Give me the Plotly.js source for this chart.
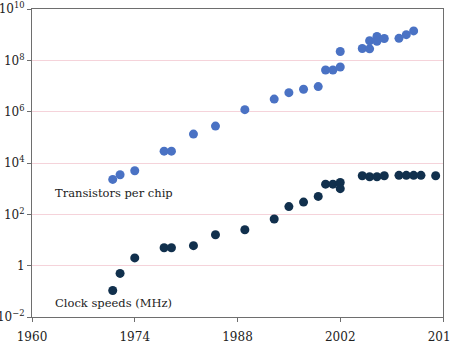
<!DOCTYPE html>
<html>
<head>
<meta charset="utf-8">
<script src="https://cdn.plot.ly/plotly-3.0.1.min.js"></script>
<style>
  html, body { margin: 0; padding: 0; background: #ffffff; }
  #chart { width: 450px; height: 343px; }
</style>
</head>
<body>
<div id="chart"></div>
<script>
// Transistor counts per microprocessor, by year of introduction
const transistorYears = [1971, 1972, 1974, 1978, 1979, 1982, 1985, 1989, 1993, 1995, 1997, 1999,
  2000, 2001, 2002, 2002, 2005, 2006, 2006, 2007, 2007, 2008, 2010, 2011, 2012];
const transistorCounts = [2300, 3500, 5000, 29000, 29000, 134000, 275000, 1200000, 3100000,
  5500000, 7500000, 9500000, 42000000, 42000000, 55000000, 220000000, 290000000, 280000000,
  580000000, 850000000, 550000000, 710000000, 720000000, 1000000000, 1400000000];

// Clock speeds in MHz, by year of introduction
const clockYears = [1971, 1972, 1974, 1978, 1979, 1982, 1985, 1989, 1993, 1995, 1997, 1999,
  2000, 2001, 2002, 2002, 2005, 2006, 2007, 2008, 2010, 2011, 2012, 2013, 2015];
const clockMHz = [0.108, 0.5, 2, 5, 5, 6, 16, 25, 66, 200, 300, 500,
  1500, 1500, 1740, 1000, 3200, 2900, 2900, 3200, 3300, 3300, 3300, 3300, 3200];

// Axis ticks
const xTickVals = [1960, 1974, 1988, 2002, 2016];
const yTickVals = [1e-2, 1, 1e2, 1e4, 1e6, 1e8, 1e10];
const yTickText = ['10<sup>\u22122</sup>', '1', '10<sup>2</sup>', '10<sup>4</sup>',
  '10<sup>6</sup>', '10<sup>8</sup>', '10<sup>10</sup>'];

const seriesLabels = ['Transistors per chip', 'Clock speeds (MHz)'];

const serif = 'DejaVu Serif, serif';

const traces = [
  {
    x: transistorYears, y: transistorCounts, name: seriesLabels[0],
    type: 'scatter', mode: 'markers',
    marker: { color: '#4a72c4', size: 9 },
    hoverinfo: 'skip'
  },
  {
    x: clockYears, y: clockMHz, name: seriesLabels[1],
    type: 'scatter', mode: 'markers',
    marker: { color: '#11304d', size: 9 },
    hoverinfo: 'skip'
  }
];

const layout = {
  width: 450, height: 343,
  margin: { l: 32, r: 7, t: 9, b: 26 },
  paper_bgcolor: '#ffffff', plot_bgcolor: '#ffffff',
  showlegend: false,
  font: { family: serif, size: 12, color: '#222222' },
  xaxis: {
    range: [1960, 2016],
    tickvals: xTickVals,
    ticks: 'outside', ticklen: 4, tickcolor: '#6e6e6e',
    ticklabelstandoff: 5,
    ticklabeloverflow: 'allow',
    showgrid: false, zeroline: false,
    showline: true, linecolor: '#6e6e6e', linewidth: 1, mirror: true,
    tickfont: { family: serif, size: 12, color: '#222222' }
  },
  yaxis: {
    type: 'log',
    range: [-2, 10],
    tickvals: yTickVals, ticktext: yTickText,
    ticks: 'outside', ticklen: 4, tickcolor: '#6e6e6e',
    ticklabeloverflow: 'allow',
    showgrid: true, gridcolor: '#f5d3da', gridwidth: 1,
    zeroline: false,
    showline: true, linecolor: '#6e6e6e', linewidth: 1, mirror: true,
    tickfont: { family: serif, size: 12, color: '#222222' }
  },
  annotations: [
    {
      xref: 'paper', yref: 'paper', x: 0.052, y: 0.403,
      xanchor: 'left', yanchor: 'middle', showarrow: false,
      text: seriesLabels[0],
      font: { family: serif, size: 11.5, color: '#222222' }
    },
    {
      xref: 'paper', yref: 'paper', x: 0.052, y: 0.044,
      xanchor: 'left', yanchor: 'middle', showarrow: false,
      text: seriesLabels[1],
      font: { family: serif, size: 11.5, color: '#222222' }
    }
  ]
};

Plotly.newPlot('chart', traces, layout, { displayModeBar: false, staticPlot: true });
</script>
</body>
</html>
